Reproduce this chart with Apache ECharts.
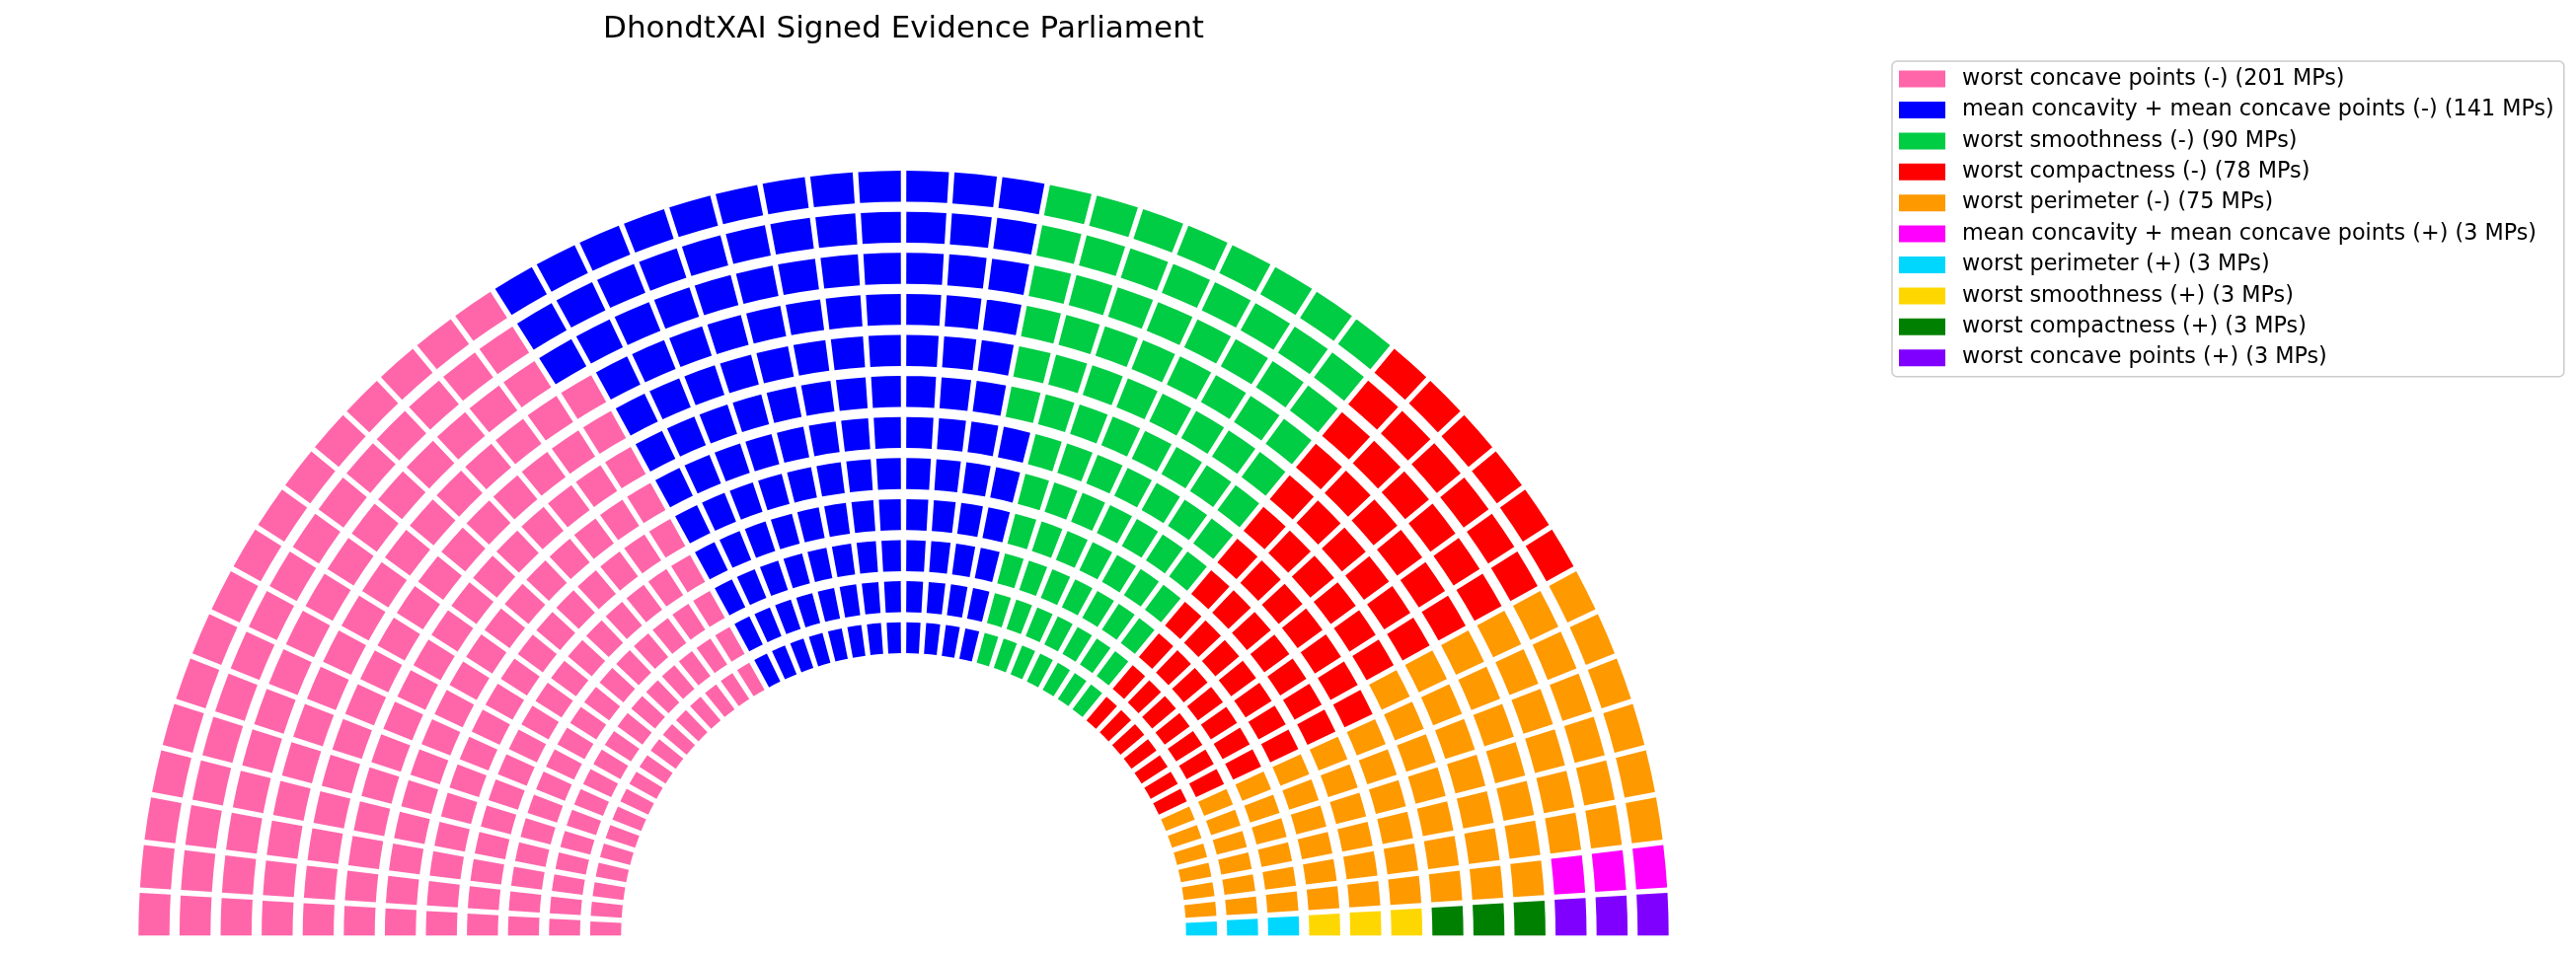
<!DOCTYPE html>
<html>
<head>
<meta charset="utf-8">
<title>DhondtXAI Signed Evidence Parliament</title>
<script src="https://cdn.jsdelivr.net/npm/echarts@6/dist/echarts.min.js"></script>
<style>
  html, body { margin: 0; padding: 0; background: #fff; }
  #main { width: 2610px; height: 968px; }
</style>
</head>
<body>
<div id="main"></div>
<script>
var myChart = echarts.init(document.getElementById('main'));

// parties, in seating order (left to right)
var partyNames = [
    'worst concave points (-)',
    'mean concavity + mean concave points (-)',
    'worst smoothness (-)',
    'worst compactness (-)',
    'worst perimeter (-)',
    'mean concavity + mean concave points (+)',
    'worst perimeter (+)',
    'worst smoothness (+)',
    'worst compactness (+)',
    'worst concave points (+)'
];
var partySeats = [201, 141, 90, 78, 75, 3, 3, 3, 3, 3];
var partyColors = ['#FF66AA', '#0000FF', '#00CC44', '#FF0000', '#FF9900',
    '#FF00FF', '#00D7FF', '#FFD700', '#008000', '#8000FF'];

var rowCount = 12;      // rings
var seatsPerRow = 50;   // seats in every ring
var GAP_FRAC = 0.245;   // empty part of each ring (radial gap)
var GAP_PX = 5.5;       // gap between neighbour seats

// seats are filled column by column (left to right), inner ring first
var seatData = partyNames.map(function () { return []; });
var k = 0;
for (var p = 0; p < partySeats.length; p++) {
    for (var s = 0; s < partySeats[p]; s++) {
        var col = Math.floor(k / rowCount);
        var row = k % rowCount;
        seatData[p].push([row, col]);
        k++;
    }
}

var screenAngle = function (pt, cx, cy) {
    var a = Math.atan2(pt[1] - cy, pt[0] - cx);
    if (a > 0.5) a -= Math.PI * 2;
    return a;
};

var renderSeat = function (params, api) {
    var row = api.value(0);
    var col = api.value(1);
    var cx = params.coordSys.cx;
    var cy = params.coordSys.cy;
    var pIn = api.coord([row + GAP_FRAC, 0]);
    var pOut = api.coord([row + 1, 0]);
    var r0 = Math.hypot(pIn[0] - cx, pIn[1] - cy);
    var r1 = Math.hypot(pOut[0] - cx, pOut[1] - cy);
    var aL = screenAngle(api.coord([row + 0.5, 0]), cx, cy);
    var aR = screenAngle(api.coord([row + 0.5, seatsPerRow]), cx, cy);
    var gapA = GAP_PX / ((r0 + r1) / 2);
    var w = ((aR - aL) - (seatsPerRow - 1) * gapA) / seatsPerRow;
    var start = aL + col * (w + gapA);
    return {
        type: 'sector',
        shape: { cx: cx, cy: cy, r0: r0, r: r1, startAngle: start, endAngle: start + w, clockwise: true },
        style: { fill: api.visual('color') }
    };
};

var series = partyNames.map(function (name, i) {
    return {
        name: name,
        type: 'custom',
        coordinateSystem: 'polar',
        renderItem: renderSeat,
        itemStyle: { color: partyColors[i] },
        data: seatData[i],
        animation: false
    };
});

option = {
    backgroundColor: '#ffffff',
    title: {
        text: 'DhondtXAI Signed Evidence Parliament',
        left: 915.5,
        top: 14,
        textAlign: 'center',
        padding: 0,
        textStyle: {
            fontFamily: 'DejaVu Sans',
            fontSize: 31,
            fontWeight: 'normal',
            color: '#000'
        }
    },
    legend: {
        orient: 'vertical',
        left: 1917,
        top: 62,
        padding: [7, 10, 8, 7],
        itemWidth: 47,
        itemHeight: 17,
        itemGap: 9.2,
        icon: 'rect',
        selectedMode: false,
        borderColor: '#cccccc',
        borderWidth: 1.5,
        borderRadius: 5,
        backgroundColor: '#ffffff',
        data: partyNames,
        formatter: function (name) {
            return name + ' (' + partySeats[partyNames.indexOf(name)] + ' MPs)';
        },
        textStyle: {
            fontFamily: 'DejaVu Sans',
            fontSize: 22.3,
            lineHeight: 22.2,
            color: '#000',
            padding: [0, 0, 0, 12]
        }
    },
    polar: {
        center: [915.5, 948.3],
        radius: [276, 775.2]
    },
    angleAxis: {
        type: 'value',
        min: 0,
        max: 100,
        startAngle: 180,
        clockwise: true,
        axisLine: { show: false },
        axisTick: { show: false },
        axisLabel: { show: false },
        splitLine: { show: false }
    },
    radiusAxis: {
        type: 'value',
        min: 0,
        max: rowCount,
        axisLine: { show: false },
        axisTick: { show: false },
        axisLabel: { show: false },
        splitLine: { show: false }
    },
    series: series
};

myChart.setOption(option);
</script>
</body>
</html>
